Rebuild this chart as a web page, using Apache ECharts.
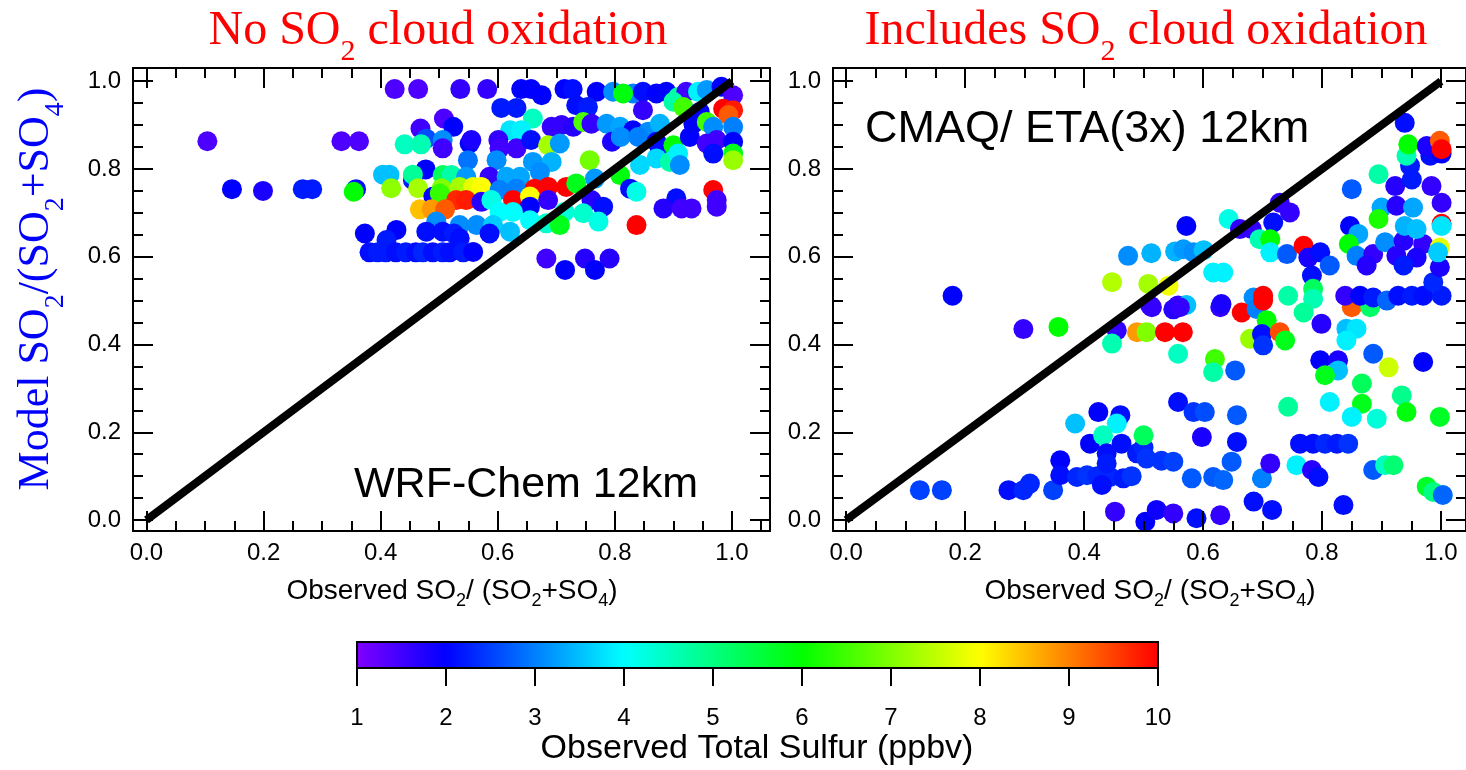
<!DOCTYPE html>
<html><head><meta charset="utf-8">
<script src="https://cdn.jsdelivr.net/npm/echarts@6/dist/echarts.min.js"></script>
<style>html,body{margin:0;padding:0;background:#fff}#c{width:1466px;height:770px}</style>
</head><body><div id="c"></div>
<script>
// ---------- data ----------
const majorTicks = [0, 0.2, 0.4, 0.6, 0.8, 1.0];
const minorTicksX = [0.05,0.1,0.15,0.25,0.3,0.35,0.45,0.5,0.55,0.65,0.7,0.75,0.85,0.9,0.95,1.05];
const minorTicksY = [0.05,0.1,0.15,0.25,0.3,0.35,0.45,0.5,0.55,0.65,0.7,0.75,0.85,0.9,0.95];
const sulfurRange = [1, 10];
const rainbow = ['#8000ff','#0000ff','#0080ff','#00ffff','#00ff80','#00ff00','#80ff00','#ffff00','#ff8000','#ff0000'];
const oneToOne = [[0,0],[1,1]];

// [observed SO2/(SO2+SO4), model SO2/(SO2+SO4), observed total sulfur ppbv]
const wrfChem = [
[0.104,0.863,1.4],[0.146,0.754,2.0],[0.199,0.750,1.8],[0.267,0.754,2.2],[0.283,0.754,2.2],[0.333,0.863,1.4],[0.363,0.863,1.4],[0.358,0.754,2.1],[0.354,0.748,6.0],
[0.424,0.982,1.4],[0.464,0.982,1.4],[0.536,0.982,1.6],[0.582,0.982,1.6],[0.640,0.982,2.0],[0.657,0.982,2.0],[0.675,0.968,2.0],[0.714,0.982,2.0],[0.728,0.982,2.1],[0.769,0.976,2.0],[0.797,0.976,3.1],[0.831,0.972,3.0],[0.814,0.972,5.9],[0.848,0.976,2.1],[0.871,0.972,2.0],[0.888,0.976,2.0],[0.908,0.964,4.8],[0.922,0.976,1.5],[0.942,0.976,3.9],[0.957,0.980,3.2],[0.982,0.987,2.0],[1.002,0.968,1.4],
[0.606,0.939,2.2],[0.632,0.939,2.2],[0.734,0.945,2.1],[0.754,0.941,2.2],[0.848,0.934,1.6],[0.900,0.953,4.7],[0.917,0.941,6.5],[0.945,0.930,2.0],[0.985,0.937,10],[1.002,0.934,9.8],[0.994,0.923,9.3],
[0.508,0.915,1.4],[0.524,0.896,2.0],[0.468,0.892,1.5],[0.478,0.869,2.6],[0.660,0.915,4.5],[0.621,0.888,3.8],[0.640,0.888,3.9],[0.692,0.896,1.6],[0.709,0.900,1.6],[0.729,0.896,1.7],[0.746,0.907,6.6],[0.760,0.903,1.6],[0.786,0.903,3.2],[0.809,0.896,3.3],[0.831,0.888,2.0],[0.857,0.885,3.1],[0.877,0.903,3.4],[0.934,0.903,2.0],[0.957,0.907,6.5],[0.968,0.896,3.1],[1.002,0.896,3.0],
[0.441,0.856,4.5],[0.469,0.856,4.6],[0.506,0.866,3.1],[0.506,0.847,1.5],[0.552,0.858,2.0],[0.555,0.866,1.8],[0.601,0.866,1.6],[0.603,0.847,1.5],[0.632,0.847,1.5],[0.657,0.866,2.1],[0.686,0.854,7.3],[0.706,0.858,3.2],[0.795,0.862,1.8],[0.810,0.873,3.1],[0.840,0.873,3.0],[0.871,0.862,2.0],[0.877,0.843,2.1],[0.900,0.854,6.0],[0.928,0.873,2.0],[0.957,0.858,1.5],[0.974,0.866,1.5],[0.968,0.835,2.1],[1.002,0.862,2.0],[1.002,0.835,5.8],[1.002,0.820,7.2],
[0.549,0.820,2.9],[0.598,0.820,3.1],[0.660,0.816,3.2],[0.692,0.816,3.4],[0.757,0.820,6.9],[0.843,0.809,3.7],[0.871,0.824,3.7],[0.894,0.816,4.7],[0.908,0.835,3.9],[0.911,0.809,3.1],
[0.404,0.787,3.5],[0.415,0.787,3.5],[0.477,0.799,2.0],[0.455,0.775,2.2],[0.455,0.787,4.8],[0.506,0.786,5.3],[0.521,0.786,4.7],[0.546,0.782,3.2],[0.586,0.782,1.6],[0.615,0.782,3.3],[0.638,0.782,3.3],[0.672,0.793,3.1],[0.766,0.778,3.2],[0.809,0.786,5.9],
[0.418,0.756,7.1],[0.464,0.756,7.3],[0.490,0.737,2.0],[0.504,0.756,7.0],[0.501,0.744,6.4],[0.535,0.759,7.3],[0.558,0.759,7.8],[0.572,0.759,8.0],[0.603,0.752,3.0],[0.632,0.755,3.0],[0.663,0.755,10],[0.686,0.759,10],[0.717,0.759,10],[0.734,0.767,5.8],[0.826,0.755,2.1],[0.837,0.748,4.2],[0.968,0.752,10],
[0.529,0.729,9.7],[0.546,0.729,9.8],[0.572,0.725,1.7],[0.589,0.729,4.2],[0.626,0.729,10],[0.655,0.737,8.0],[0.655,0.714,2.0],[0.686,0.729,1.6],[0.760,0.729,1.7],[0.780,0.714,2.1],[0.905,0.733,2.1],[0.883,0.710,1.7],[0.914,0.710,1.5],[0.931,0.710,1.5],[0.974,0.729,1.5],[0.974,0.714,1.5],
[0.467,0.708,8.5],[0.487,0.708,8.8],[0.510,0.708,9.3],[0.603,0.702,4.0],[0.626,0.702,4.0],[0.714,0.702,4.3],[0.746,0.699,4.4],
[0.495,0.680,3.1],[0.535,0.672,3.1],[0.564,0.672,3.1],[0.592,0.672,3.6],[0.655,0.683,4.0],[0.683,0.676,4.4],[0.706,0.672,5.8],[0.772,0.680,4.2],[0.837,0.672,10],[0.621,0.657,3.5],
[0.373,0.653,2.0],[0.427,0.661,2.0],[0.410,0.638,2.2],[0.478,0.657,2.1],[0.506,0.657,2.1],[0.525,0.653,2.2],[0.586,0.653,2.1],[0.535,0.642,2.1],
[0.381,0.610,2.1],[0.395,0.610,2.2],[0.409,0.610,2.2],[0.426,0.610,2.1],[0.443,0.610,2.2],[0.460,0.610,2.1],[0.472,0.610,2.3],[0.489,0.610,2.1],[0.506,0.610,2.2],[0.518,0.610,2.1],[0.541,0.610,2.2],[0.558,0.611,2.0],
[0.683,0.596,1.5],[0.715,0.570,2.0],[0.749,0.596,1.7],[0.766,0.570,2.0],[0.791,0.596,1.7]
];

const cmaqEta = [
[0.124,0.068,2.5],[0.161,0.068,2.5],[0.179,0.511,2.0],[0.273,0.068,2.1],[0.298,0.068,2.3],[0.309,0.083,2.3],[0.348,0.068,2.5],[0.298,0.435,1.6],[0.357,0.440,6.0],
[0.360,0.136,2.0],[0.360,0.102,2.1],[0.388,0.098,2.3],[0.405,0.102,2.4],[0.422,0.100,2.3],[0.444,0.098,2.3],[0.466,0.095,2.2],[0.480,0.100,2.4],[0.430,0.080,2.1],[0.410,0.174,2.0],[0.424,0.246,2.0],[0.461,0.239,2.1],[0.455,0.220,3.9],[0.385,0.220,3.5],[0.432,0.193,4.5],[0.463,0.174,2.1],[0.438,0.152,2.1],[0.489,0.152,2.2],[0.438,0.129,2.2],[0.500,0.165,2.3],[0.505,0.140,2.4],[0.530,0.135,2.4],[0.550,0.133,2.5],[0.500,0.193,5.3],[0.452,0.019,1.6],[0.503,-0.004,2.0],[0.522,0.023,1.9],[0.550,0.015,1.6],[0.589,0.004,2.1],[0.629,0.011,1.6],
[0.447,0.542,7.4],[0.474,0.602,3.1],[0.513,0.608,3.4],[0.553,0.612,3.4],[0.567,0.617,3.2],[0.584,0.610,3.1],[0.601,0.615,3.5],[0.508,0.538,7.3],[0.542,0.534,7.9],[0.617,0.564,3.9],[0.634,0.564,3.9],
[0.511,0.489,1.6],[0.514,0.485,1.6],[0.558,0.489,1.6],[0.550,0.480,1.7],[0.572,0.490,3.5],[0.561,0.485,1.6],[0.629,0.485,1.6],[0.631,0.492,1.8],
[0.455,0.432,1.6],[0.447,0.402,4.6],[0.489,0.428,8.8],[0.505,0.428,7.0],[0.536,0.428,10],[0.566,0.428,10],[0.558,0.379,4.5],[0.620,0.367,6.5],[0.617,0.337,4.7],[0.654,0.341,2.7],
[0.558,0.269,2.1],[0.584,0.246,2.4],[0.603,0.246,2.6],[0.657,0.239,2.7],[0.598,0.189,1.8],[0.657,0.178,2.1],[0.648,0.133,2.7],[0.581,0.095,2.7],[0.617,0.098,2.7],[0.634,0.091,2.8],[0.699,0.095,3.0],[0.713,0.129,1.6],[0.685,0.042,2.1],[0.716,0.023,2.1],
[0.572,0.670,2.0],[0.643,0.686,4.2],[0.662,0.663,1.6],[0.682,0.663,1.6],[0.729,0.723,1.6],[0.746,0.701,1.6],[0.718,0.678,2.1],[0.695,0.640,4.6],[0.713,0.640,6.0],[0.713,0.610,3.9],[0.741,0.606,2.7],[0.769,0.625,10],[0.777,0.598,1.8],[0.797,0.610,2.1],[0.813,0.580,2.7],[0.783,0.557,2.1],[0.785,0.527,5.3],[0.785,0.504,4.6],[0.685,0.507,3.1],[0.701,0.511,10],[0.743,0.511,4.7],
[0.665,0.473,10],[0.690,0.481,3.0],[0.701,0.500,10],[0.707,0.455,6.0],[0.679,0.413,7.2],[0.699,0.424,2.1],[0.701,0.398,2.4],[0.729,0.428,9.4],[0.738,0.409,5.8],[0.769,0.473,4.8],[0.799,0.447,1.7],[0.841,0.436,3.5],[0.858,0.436,3.8],[0.841,0.409,3.9],[0.850,0.485,9.3],[0.881,0.485,5.2],
[0.886,0.379,2.7],[0.797,0.364,2.0],[0.827,0.364,1.8],[0.827,0.341,3.5],[0.805,0.330,5.8],[0.912,0.348,7.6],[0.970,0.360,2.0],[0.867,0.311,5.3],[0.934,0.284,4.9],[0.813,0.269,3.9],[0.867,0.265,5.8],[0.743,0.258,4.8],[0.850,0.235,3.9],[0.892,0.231,4.3],[0.942,0.246,5.9],[0.998,0.235,5.7],
[0.763,0.174,2.1],[0.785,0.174,2.1],[0.805,0.174,2.3],[0.825,0.174,2.2],[0.844,0.174,2.4],[0.757,0.125,3.9],[0.783,0.114,1.7],[0.794,0.098,2.1],[0.886,0.114,2.7],[0.906,0.125,4.5],[0.920,0.125,5.1],[0.976,0.076,5.7],[0.987,0.064,5.0],[1.003,0.057,2.8],[0.836,0.034,2.1],
[0.839,0.511,1.6],[0.864,0.511,2.0],[0.886,0.507,2.2],[0.909,0.500,2.8],[0.928,0.511,2.1],[0.951,0.511,2.2],[0.970,0.511,2.1],[1.001,0.511,2.2],[0.987,0.542,2.3],
[0.847,0.670,2.0],[0.861,0.652,3.3],[0.845,0.629,6.0],[0.858,0.602,3.0],[0.886,0.606,1.6],[0.875,0.580,1.7],[0.906,0.633,3.1],[0.937,0.636,1.7],[0.970,0.629,1.6],[0.925,0.602,1.7],[0.959,0.598,1.8],[0.937,0.580,2.2],[0.998,0.576,1.8],[0.998,0.621,7.8],[0.995,0.610,3.6],
[0.900,0.712,3.3],[0.925,0.716,1.7],[0.953,0.712,3.3],[1.001,0.723,1.6],[0.895,0.686,6.2],[0.939,0.670,3.4],[0.959,0.663,3.5],[1.001,0.675,10],[1.001,0.670,3.8],
[0.850,0.754,2.7],[0.923,0.761,1.7],[0.951,0.776,2.2],[0.984,0.761,1.6],[0.895,0.788,4.7],[0.948,0.807,2.2],[0.942,0.830,4.6],[0.982,0.830,2.1],[1.001,0.835,2.0],[0.945,0.856,6.0],[0.976,0.852,1.8],[0.998,0.864,9.3],[1.001,0.845,10],[0.939,0.905,2.1]
];

// ---------- layout / styling ----------
const SANS = '"Liberation Sans", Arial, Helvetica, sans-serif';
const SERIF = '"Liberation Serif", "Times New Roman", Times, serif';
const X_RANGE_L = [-0.023, 1.065];
const X_RANGE_R = [-0.022, 1.042];
const Y_RANGE = [-0.025, 1.03];

function axis(gridIndex, position, range, ticks, len, showLine, showLabel) {
  return {
    gridIndex, type: 'value', position, min: range[0], max: range[1], z: 5,
    axisLine: { show: showLine, onZero: false, lineStyle: { color: '#000', width: 2 } },
    axisTick: { show: true, inside: true, length: len, customValues: ticks, lineStyle: { color: '#000', width: 2 } },
    axisLabel: { show: showLabel, customValues: ticks, color: '#000', fontFamily: SANS, fontSize: 24,
                 margin: (position === 'bottom') ? 10 : 12, formatter: v => v.toFixed(1) },
    splitLine: { show: false }
  };
}
const xAxes = [], yAxes = [];
[0, 1].forEach(g => {
  const xr = g === 0 ? X_RANGE_L : X_RANGE_R;
  xAxes.push(axis(g, 'bottom', xr, majorTicks, 20, true, true));
  xAxes.push(axis(g, 'bottom', xr, minorTicksX, 10, false, false));
  xAxes.push(axis(g, 'top', xr, majorTicks, 20, true, false));
  xAxes.push(axis(g, 'top', xr, minorTicksX, 10, false, false));
  yAxes.push(axis(g, 'left', Y_RANGE, majorTicks, 20, true, true));
  yAxes.push(axis(g, 'left', Y_RANGE, minorTicksY, 10, false, false));
  yAxes.push(axis(g, 'right', Y_RANGE, majorTicks, 20, true, false));
  yAxes.push(axis(g, 'right', Y_RANGE, minorTicksY, 10, false, false));
});
// colour bar axis
xAxes.push({
  gridIndex: 2, type: 'value', position: 'bottom', min: sulfurRange[0], max: sulfurRange[1], interval: 1, z: 11,
  axisLine: { show: true, onZero: false, lineStyle: { color: '#000', width: 2 } },
  axisTick: { show: true, inside: false, length: 18, lineStyle: { color: '#000', width: 2 } },
  axisLabel: { color: '#000', fontFamily: SANS, fontSize: 24, margin: 38 },
  splitLine: { show: false }
});
yAxes.push({ gridIndex: 2, type: 'value', min: 0, max: 1, show: false });

function richPair(mainPx, subPx, family, pad, color) {
  return {
    n: { font: mainPx + 'px ' + family, fill: color, lineHeight: mainPx + 8 },
    s: { font: subPx + 'px ' + family, fill: color, lineHeight: 8, padding: [pad, 0, 0, 0] }
  };
}
const titleRich = richPair(48, 30, SERIF, 42, '#ff0000');
const yRich = richPair(44, 28, SERIF, 40, '#0000ff');
const xRich = richPair(28, 18, SANS, 21, '#000');
const xTitle = '{n|Observed SO}{s|2}{n|/ (SO}{s|2}{n|+SO}{s|4}{n|)}';

const option = {
  animation: false,
  backgroundColor: '#fff',
  grid: [
    { left: 133, top: 68, width: 637, height: 463, outerBoundsMode: 'none', containLabel: false },
    { left: 833, top: 68, width: 633, height: 463, outerBoundsMode: 'none', containLabel: false },
    { left: 357, top: 642, width: 801, height: 26, outerBoundsMode: 'none', containLabel: false,
      show: true, borderColor: '#000', borderWidth: 2, backgroundColor: 'transparent', z: 10 }
  ],
  xAxis: xAxes,
  yAxis: yAxes,
  visualMap: {
    type: 'continuous', min: sulfurRange[0], max: sulfurRange[1], dimension: 2, seriesIndex: [0, 2],
    orient: 'horizontal', left: 357, top: 642, itemWidth: 26, itemHeight: 801, padding: 0,
    calculable: false, hoverLink: false, inRange: { color: rainbow }, z: 1
  },
  series: [
    { type: 'scatter', xAxisIndex: 0, yAxisIndex: 0, data: wrfChem, symbol: 'circle', symbolSize: 20,
      itemStyle: { opacity: 1 }, emphasis: { disabled: true }, z: 2 },
    { type: 'line', xAxisIndex: 0, yAxisIndex: 0, data: oneToOne, symbol: 'none',
      lineStyle: { color: '#000', width: 8 }, z: 3, silent: true },
    { type: 'scatter', xAxisIndex: 4, yAxisIndex: 4, data: cmaqEta, symbol: 'circle', symbolSize: 20,
      itemStyle: { opacity: 1 }, emphasis: { disabled: true }, z: 2 },
    { type: 'line', xAxisIndex: 4, yAxisIndex: 4, data: oneToOne, symbol: 'none',
      lineStyle: { color: '#000', width: 8 }, z: 3, silent: true }
  ],
  graphic: [
    { type: 'text', x: 438, y: 31, z: 20, style: { text: '{n|No SO}{s|2}{n| cloud oxidation}', align: 'center', verticalAlign: 'middle', fill: '#ff0000', rich: titleRich } },
    { type: 'text', x: 1146, y: 31, z: 20, style: { text: '{n|Includes SO}{s|2}{n| cloud oxidation}', align: 'center', verticalAlign: 'middle', fill: '#ff0000', rich: titleRich } },
    { type: 'text', x: 36, y: 289, rotation: Math.PI / 2, z: 20, style: { text: '{n|Model SO}{s|2}{n|/(SO}{s|2}{n|+SO}{s|4}{n|)}', align: 'center', verticalAlign: 'middle', fill: '#0000ff', rich: yRich } },
    { type: 'text', x: 452, y: 591, z: 20, style: { text: xTitle, align: 'center', verticalAlign: 'middle', fill: '#000', rich: xRich } },
    { type: 'text', x: 1150, y: 591, z: 20, style: { text: xTitle, align: 'center', verticalAlign: 'middle', fill: '#000', rich: xRich } },
    { type: 'text', x: 526, y: 485, z: 20, style: { text: 'WRF-Chem 12km', align: 'center', verticalAlign: 'middle', fill: '#000', font: '43px ' + SANS } },
    { type: 'text', x: 865, y: 130, z: 20, style: { text: 'CMAQ/ ETA(3x) 12km', align: 'left', verticalAlign: 'middle', fill: '#000', font: '45px ' + SANS } },
    { type: 'text', x: 757, y: 749, z: 20, style: { text: 'Observed Total Sulfur (ppbv)', align: 'center', verticalAlign: 'middle', fill: '#000', font: '34px ' + SANS } }
  ]
};
const chart = echarts.init(document.getElementById('c'), null, { renderer: 'canvas' });
chart.setOption(option);
</script>
</body></html>
